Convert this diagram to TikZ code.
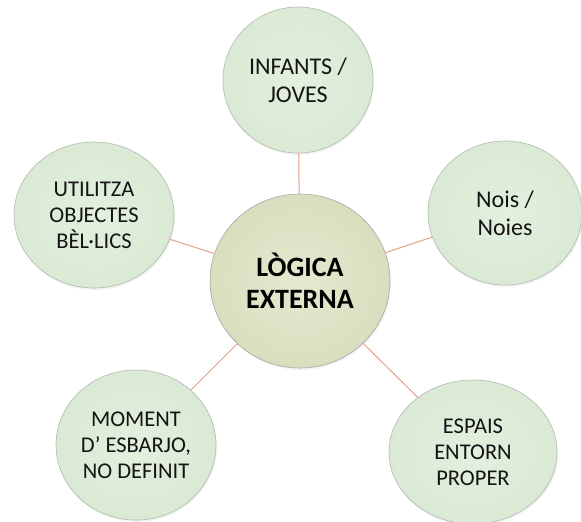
\documentclass[tikz,border=0pt]{standalone}
\usepackage{fontspec}
\setmainfont{Carlito}
\usepackage{xcolor}
\usepackage{tikz}
\usetikzlibrary{
	shapes.geometric,
	shadows
}
\definecolor{PaleGreen}{RGB}{226,240,222}
\definecolor{EdgeGreen}{RGB}{218,234,212}
\definecolor{PaleOlive}{RGB}{230,232,208}
\definecolor{EdgeOlive}{RGB}{218,222,190}
\definecolor{Salmon}{RGB}{226,160,136}
\definecolor{RimGray}{RGB}{176,186,174}

\begin{document}
\begin{tikzpicture}[x=1pt, y=-1pt,
		bubble/.style={ellipse, draw=RimGray, line width=0.6pt, inner sep=0pt,
			shading=radial, inner color=PaleGreen, outer color=EdgeGreen,
			drop shadow={shadow xshift=1pt, shadow yshift=-2pt, opacity=0.1},
			align=center, text=black!92, font=\fontsize{22.5}{26}\selectfont},
		hub/.style={bubble, inner color=PaleOlive, outer color=EdgeOlive, draw=gray!70,
			font=\fontsize{28}{32}\selectfont\bfseries, text=black},
		spoke/.style={Salmon, line width=1pt}]
		\useasboundingbox (0,0) rectangle (581,522);
		
		% centre
		\node[hub, minimum width=180, minimum height=174] (L) at (300,281) {LÒGICA\\EXTERNA};
		
		% bubbles around
		\node[bubble, minimum width=150, minimum height=146, font=\fontsize{24}{28}\selectfont] (I) at (298,80) {INFANTS /\\JOVES};
		\node[bubble, minimum width=154, minimum height=144, font=\fontsize{24}{28}\selectfont] (N) at (505,213) {Nois /\\Noies};
		\node[bubble, minimum width=168, minimum height=144] (E) at (473,452) {ESPAIS\\ENTORN\\PROPER};
		\node[bubble, minimum width=160, minimum height=150] (M) at (136,445) {MOMENT\\D’ ESBARJO,\\NO DEFINIT};
		\node[bubble, minimum width=160, minimum height=146] (U) at (94,215) {UTILITZA\\OBJECTES\\BÈL·LICS};
		
		% spokes
		\draw[spoke] (L) -- (I);
		\draw[spoke] (L) -- (N);
		\draw[spoke] (L) -- (E);
		\draw[spoke] (L) -- (M);
		\draw[spoke] (L) -- (U);
	\end{tikzpicture}
\end{document}
